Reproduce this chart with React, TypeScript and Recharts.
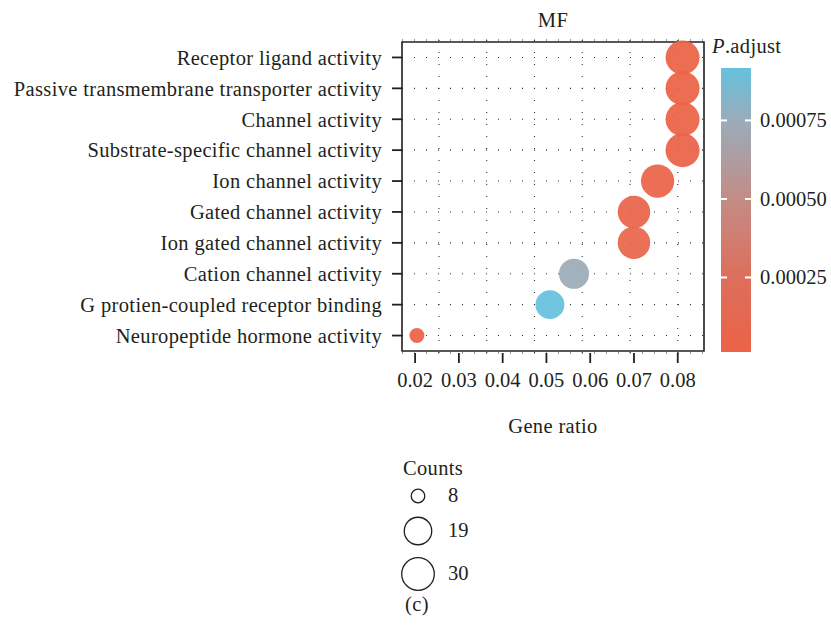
import React from 'react';
import {
  ScatterChart,
  Scatter,
  XAxis,
  YAxis,
  ZAxis,
  CartesianGrid,
  ReferenceArea,
  Cell,
} from 'recharts';

// GO molecular-function enrichment terms, top to bottom
const terms = [
  'Receptor ligand activity',
  'Passive transmembrane transporter activity',
  'Channel activity',
  'Substrate-specific channel activity',
  'Ion channel activity',
  'Gated channel activity',
  'Ion gated channel activity',
  'Cation channel activity',
  'G protien-coupled receptor binding',
  'Neuropeptide hormone activity',
];
const geneRatio = [0.0811, 0.0811, 0.0811, 0.0811, 0.0754, 0.07, 0.07, 0.0563, 0.0508, 0.0204];
const counts = [30, 30, 30, 30, 28, 26, 26, 21, 19, 8];
const pAdjust = [0.0000126, 0.000014, 0.000016, 0.00002, 0.000032, 0.000055, 0.000062, 0.00074, 0.000917, 0.000018];

const xTicks = [0.02, 0.03, 0.04, 0.05, 0.06, 0.07, 0.08];
const colorTicks = [0.00025, 0.0005, 0.00075];
const legendCounts = [8, 19, 30];

const rows = terms.map((term, i) => ({
  term,
  ratio: geneRatio[i],
  count: counts[i],
  p: pAdjust[i],
}));

const FONT = '"Liberation Serif", "Times New Roman", serif';
const INK = '#231f20';

const X_DOMAIN: [number, number] = [0.017, 0.086];
// dotted vertical guides across the panel
const GRID_X = [0.02, 0.02545, 0.03091, 0.03636, 0.04182, 0.04727, 0.05273, 0.05818, 0.06364, 0.06909, 0.07455, 0.08];

// bubble area (px²) over the count range, log-scaled
const COUNT_DOMAIN: [number, number] = [8, 30];
const SIZE_RANGE: [number, number] = [177, 908];

const pMin = Math.min(...pAdjust);
const pMax = Math.max(...pAdjust);

// colour ramp for P.adjust, low (red) to high (blue)
const COLOR_STOPS: [number, string][] = [
  [0, '#ec6246'],
  [0.27, '#dc6f5d'],
  [0.54, '#c38c86'],
  [0.815, '#9aacba'],
  [1, '#66c1de'],
];

function hexToRgb(h: string) {
  const n = parseInt(h.slice(1), 16);
  return [(n >> 16) & 255, (n >> 8) & 255, n & 255];
}

function rampColor(t: number) {
  const c = Math.max(0, Math.min(1, t));
  for (let i = 1; i < COLOR_STOPS.length; i++) {
    const [t1, h1] = COLOR_STOPS[i];
    const [t0, h0] = COLOR_STOPS[i - 1];
    if (c <= t1) {
      const f = (c - t0) / (t1 - t0);
      const a = hexToRgb(h0);
      const b = hexToRgb(h1);
      const m = a.map((v, k) => Math.round(v + (b[k] - v) * f));
      return `rgb(${m[0]},${m[1]},${m[2]})`;
    }
  }
  return COLOR_STOPS[COLOR_STOPS.length - 1][1];
}

const colorFor = (p: number) => rampColor((p - pMin) / (pMax - pMin));

function bubbleRadius(c: number) {
  const f = (Math.log(c) - Math.log(COUNT_DOMAIN[0])) / (Math.log(COUNT_DOMAIN[1]) - Math.log(COUNT_DOMAIN[0]));
  const area = SIZE_RANGE[0] + (SIZE_RANGE[1] - SIZE_RANGE[0]) * f;
  return Math.sqrt(area / Math.PI);
}

// colour bar geometry
const BAR = { x: 721, top: 68, bottom: 352, w: 30 };
const barY = (v: number) => BAR.bottom - ((v - pMin) / (pMax - pMin)) * (BAR.bottom - BAR.top);

const LEGEND_X = 418;
const LEGEND_Y = [496, 531, 574];

export default function App() {
  const textStyle = { fontFamily: FONT, fontSize: 20.5, fill: INK, letterSpacing: 0.35 };
  return (
    <div style={{ position: 'absolute', left: 0, top: 0, width: 831, height: 629, background: '#fff' }}>
      <ScatterChart
        width={831}
        height={629}
        margin={{ top: 40, right: 127, bottom: 236, left: 0 }}
        style={{ fontFamily: FONT }}
      >
        <CartesianGrid
          stroke="#333"
          strokeWidth={1.1}
          strokeDasharray="1 11"
          verticalValues={GRID_X}
        />
        <XAxis
          type="number"
          dataKey="ratio"
          domain={X_DOMAIN}
          ticks={xTicks}
          allowDataOverflow
          height={40}
          axisLine={false}
          tickSize={10}
          tickMargin={9}
          tickLine={{ stroke: INK, strokeWidth: 1.8 }}
          tick={{ ...textStyle, letterSpacing: 0 }}
          tickFormatter={(v: number) => v.toFixed(2)}
        />
        <YAxis
          type="category"
          dataKey="term"
          width={402}
          reversed
          padding={{ top: 2, bottom: 2 }}
          axisLine={false}
          tickSize={10}
          tickMargin={10}
          tickLine={{ stroke: INK, strokeWidth: 1.8 }}
          tick={textStyle}
          interval={0}
        />
        <ZAxis type="number" dataKey="count" scale="log" domain={COUNT_DOMAIN} range={SIZE_RANGE} />
        <Scatter data={rows} shape="circle" isAnimationActive={false}>
          {rows.map((r) => (
            <Cell key={r.term} fill={colorFor(r.p)} fillOpacity={0.93} />
          ))}
        </Scatter>
        <ReferenceArea
          x1={X_DOMAIN[0]}
          x2={X_DOMAIN[1]}
          fill="none"
          stroke={INK}
          strokeWidth={1.6}
          ifOverflow="visible"
        />
      </ScatterChart>

      <svg
        width={831}
        height={629}
        style={{ position: 'absolute', left: 0, top: 0, pointerEvents: 'none' }}
      >
        <defs>
          <linearGradient id="padjGrad" x1="0" y1="1" x2="0" y2="0">
            {COLOR_STOPS.map(([t, c]) => (
              <stop key={t} offset={t} stopColor={c} />
            ))}
          </linearGradient>
        </defs>

        <text x={553} y={27} textAnchor="middle" {...textStyle}>MF</text>
        <text x={553} y={433} textAnchor="middle" {...textStyle}>Gene ratio</text>

        {/* P.adjust colour bar */}
        <text x={712} y={53} {...textStyle}>
          <tspan fontStyle="italic">P</tspan>.adjust
        </text>
        <rect x={BAR.x} y={BAR.top} width={BAR.w} height={BAR.bottom - BAR.top} fill="url(#padjGrad)" />
        {colorTicks.map((v) => (
          <g key={v}>
            <line x1={BAR.x} x2={BAR.x + 6} y1={barY(v)} y2={barY(v)} stroke="#fff" strokeWidth={2} />
            <line x1={BAR.x + BAR.w - 6} x2={BAR.x + BAR.w} y1={barY(v)} y2={barY(v)} stroke="#fff" strokeWidth={2} />
            <text x={760} y={barY(v) + 7} {...textStyle} letterSpacing={0}>
              {v.toFixed(5)}
            </text>
          </g>
        ))}

        {/* Counts size legend */}
        <text x={403} y={475} {...textStyle}>Counts</text>
        {legendCounts.map((c, i) => (
          <g key={c}>
            <circle cx={LEGEND_X} cy={LEGEND_Y[i]} r={bubbleRadius(c) - 0.7} fill="none" stroke={INK} strokeWidth={1.3} />
            <text x={448} y={LEGEND_Y[i] + 6} {...textStyle} letterSpacing={0}>{c}</text>
          </g>
        ))}

        <text x={417} y={611} textAnchor="middle" {...textStyle}>(c)</text>
      </svg>
    </div>
  );
}
